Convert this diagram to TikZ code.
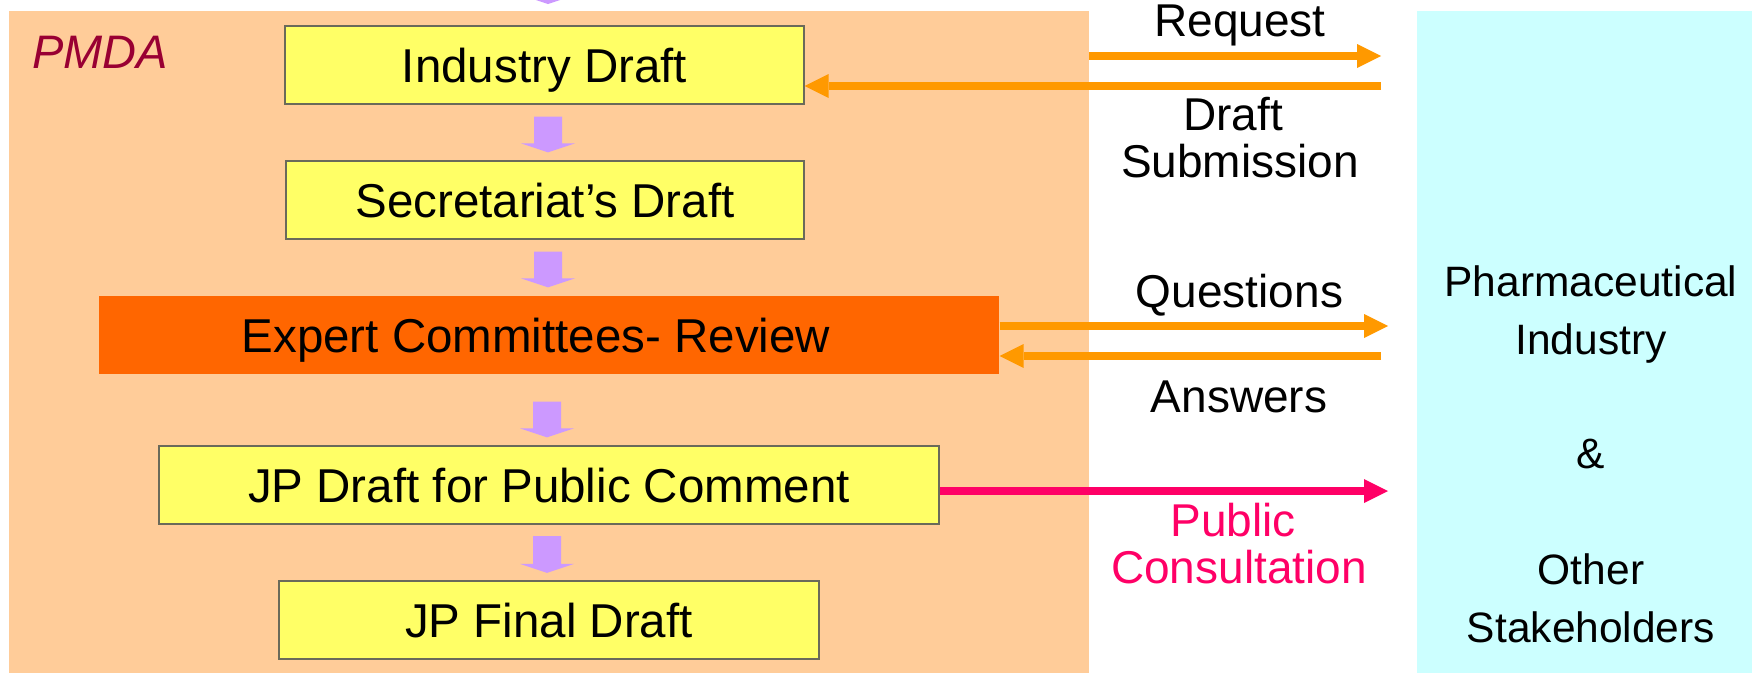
\documentclass[tikz,border=0pt]{standalone}
\usepackage{fontspec}
\setmainfont{Liberation Sans}
\usetikzlibrary{arrows.meta,calc}
\definecolor{peach}{HTML}{FFCC99}
\definecolor{lightcyan}{HTML}{CCFFFF}
\definecolor{boxyellow}{HTML}{FFFF66}
\definecolor{boxline}{HTML}{6A6A5A}
\definecolor{expertorange}{HTML}{FF6600}
\definecolor{arrorange}{HTML}{FF9900}
\definecolor{arrpurple}{HTML}{CC99FF}
\definecolor{arrpink}{HTML}{FF0066}
\definecolor{pmdared}{HTML}{990033}
\newcommand\purplearrow[2]{%
  \fill[arrpurple] let \p1=(#1), \p2=(#2) in
    (\x1-14pt,\y1) -- (\x1+14pt,\y1) -- (\x1+14pt,\y2+9pt) -- (\x1+27pt,\y2+9pt)
    -- (\x1,\y2) -- (\x1-27pt,\y2+9pt) -- (\x1-14pt,\y2+9pt) -- cycle;}
\begin{document}
\begin{tikzpicture}[x=1pt,y=-1pt,
  box/.style={draw=boxline, line width=1.2pt, fill=boxyellow, inner sep=0pt,
    minimum height=78pt, text height=34pt, text depth=0pt,
    font={\fontsize{47.5}{57}\selectfont}},
  lbl/.style={anchor=base, inner sep=0pt, font={\fontsize{46}{55}\selectfont}},
  stk/.style={anchor=base, inner sep=0pt, font={\fontsize{42.5}{57.5}\selectfont}},
  oarrow/.style={draw=arrorange, line width=8pt,
    -{Triangle[length=24pt,width=24pt,line width=0pt]}},
  karrow/.style={draw=arrpink, line width=8pt,
    -{Triangle[length=24pt,width=24pt,line width=0pt]}}]
\useasboundingbox (0,0) rectangle (1752,673);
\fill[white] (0,0) rectangle (1752,673);
% regions
\node[fill=peach, minimum width=1080pt, minimum height=662pt, inner sep=0pt,
  anchor=north west] (pmda) at (9,11) {};
\node[fill=lightcyan, minimum width=335pt, minimum height=662pt, inner sep=0pt,
  anchor=north west] (stake) at (1417,11) {};
\node[anchor=base west, inner sep=0pt, text=pmdared,
  font={\fontsize{47}{56}\selectfont\itshape}] (pmdalbl) at (32,68) {PMDA};
% boxes
\node[box, minimum width=519pt] (ind) at (544.5,65) {Industry Draft};
\node[box, minimum width=518pt] (sec) at (545,200) {Secretariat’s Draft};
\node[box, draw=none, fill=expertorange, minimum width=900pt] (exp) at (549,335)
  {Expert Committees- Review\rule{26pt}{0pt}};
\node[box, minimum width=780pt] (jpd) at (549,485) {JP Draft for Public Comment};
\node[box, minimum width=540pt] (jpf) at (549,620) {JP Final Draft};
% purple flow arrows
\coordinate (topsrc) at (548,-30);
\coordinate (toptip) at (548,4);
\purplearrow{topsrc}{toptip}
\purplearrow{$(ind.south)+(3.5,12)$}{$(sec.north)+(3,-8)$}
\purplearrow{$(sec.south)+(3,12)$}{$(exp.north)+(-1,-8)$}
\purplearrow{$(exp.south)+(-2,27)$}{$(jpd.north)+(-2,-8)$}
\purplearrow{$(jpd.south)+(-2,11.5)$}{$(jpf.north)+(-2,-7.5)$}
% exchange arrows
\coordinate (reqtip) at (1381,56);
\coordinate (subtail) at (1381,86);
\coordinate (qtip) at (1388,326);
\coordinate (atail) at (1381,356);
\coordinate (ptip) at (1388,491);
\draw[oarrow] (pmda.east |- reqtip) -- (reqtip);
\draw[oarrow] (subtail) -- (ind.east |- subtail);
\draw[oarrow] (exp.east |- qtip) -- (qtip);
\draw[oarrow] (atail) -- (exp.east |- atail);
\draw[karrow] (jpd.east |- ptip) -- (ptip);
% labels
\node[lbl] (lreq) at (1240,36) {Request};
\node[lbl] (ldr) at (1233,130) {Draft};
\node[lbl] (lsub) at (1240,177) {Submission};
\node[lbl] (lq) at (1239.5,307) {Questions};
\node[lbl] (la) at (1239,412) {Answers};
\node[lbl, text=arrpink] (lpub) at (1233,536) {Public};
\node[lbl, text=arrpink] (lcon) at (1239,583) {Consultation};
% stakeholders
\node[stk] (s1) at (1591,296) {Pharmaceutical};
\node[stk] (s2) at (1591,354) {Industry};
\node[stk] (s3) at (1591,468) {\&};
\node[stk] (s4) at (1591,584) {Other};
\node[stk] (s5) at (1591,642) {Stakeholders};
\end{tikzpicture}
\end{document}
